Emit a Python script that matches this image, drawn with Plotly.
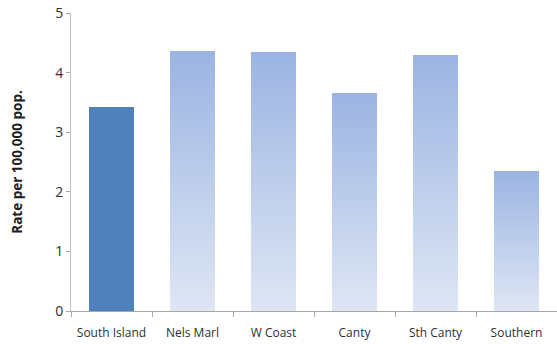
import plotly.graph_objects as go

# Chart data
regions = ["South Island", "Nels Marl", "W Coast", "Canty", "Sth Canty", "Southern"]
rates = [3.42, 4.36, 4.35, 3.66, 4.30, 2.35]
y_ticks = [0, 1, 2, 3, 4, 5]

# Styling
SOLID = "#4F81BD"
TOP = (155, 180, 226)
BOTTOM = (223, 230, 244)
N_STEPS = 60  # slices per bar used to build the vertical gradient


def blend(t):
    r, g, b = (round(TOP[i] + (BOTTOM[i] - TOP[i]) * t) for i in range(3))
    return f"rgb({r},{g},{b})"


fig = go.Figure()
for k in range(N_STEPS):
    # slice k runs bottom -> top; bottom slices are lightest
    t = 1 - (k + 0.5) / N_STEPS
    colors = [SOLID if i == 0 else blend(t) for i in range(len(regions))]
    fig.add_trace(go.Bar(
        x=regions,
        y=[v / N_STEPS for v in rates],
        marker=dict(color=colors, line=dict(width=0)),
        hoverinfo="skip",
        showlegend=False,
    ))

fig.update_layout(
    barmode="stack",
    bargap=0.45,
    width=557,
    height=344,
    margin=dict(l=71, r=0, t=13, b=33),
    paper_bgcolor="white",
    plot_bgcolor="white",
    font=dict(family="Open Sans", size=12, color="#404040"),
    xaxis=dict(
        showline=True,
        linecolor="#A6A6A6",
        linewidth=1,
        ticks="outside",
        tickson="boundaries",
        ticklen=5,
        tickcolor="#A6A6A6",
        showgrid=False,
        tickangle=0,
        automargin=False,
        ticklabelstandoff=11,
        tickfont=dict(size=12, color="#303030"),
    ),
    yaxis=dict(
        range=[0, 5],
        tickvals=y_ticks,
        showline=True,
        linecolor="#BFBFBF",
        linewidth=1,
        ticks="outside",
        ticklen=4,
        tickcolor="#A6A6A6",
        showgrid=False,
        zeroline=False,
        automargin=False,
        tickfont=dict(size=14, color="#303030"),
        title=dict(text="<b>Rate per 100,000 pop.</b>",
                   font=dict(size=13.5, color="#202020"), standoff=29),
    ),
)

fig.write_html("out.html")
